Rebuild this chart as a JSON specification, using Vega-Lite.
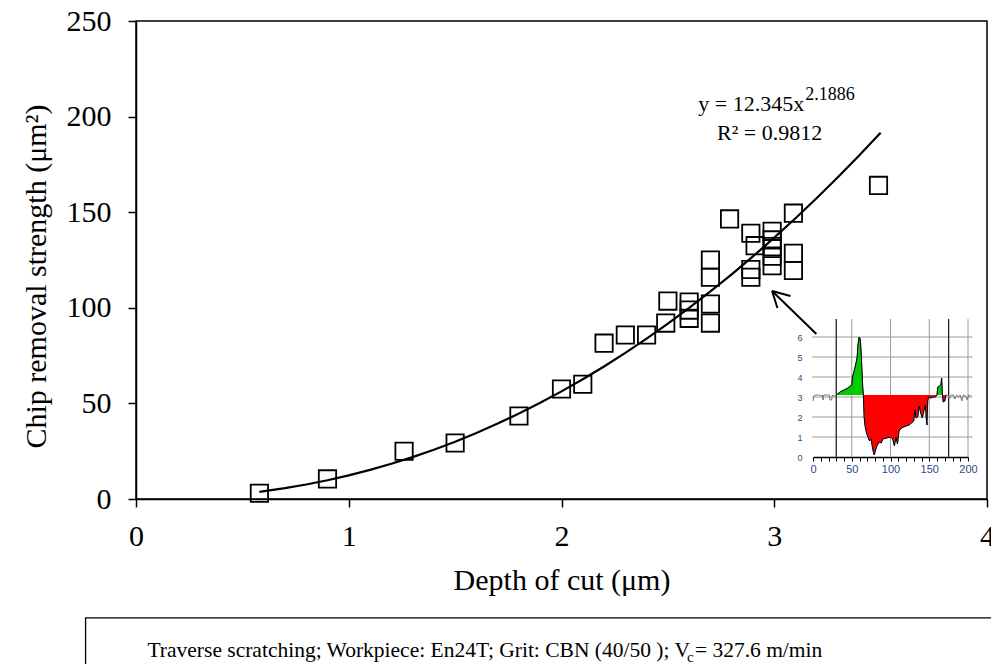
{
  "$schema": "https://vega.github.io/schema/vega-lite/v6.json",
  "width": 851,
  "height": 478,
  "autosize": {"type": "none"},
  "padding": {"left": 136, "top": 21, "right": 4, "bottom": 165},
  "background": "white",
  "config": {
    "view": {"stroke": "black", "strokeWidth": 1.5},
    "font": "Liberation Serif"
  },
  "datasets": {
    "pts": [
      {"x": 0.58, "y": 3}, {"x": 0.9, "y": 10.5}, {"x": 1.26, "y": 25}, {"x": 1.5, "y": 29.3},
      {"x": 1.8, "y": 43.4}, {"x": 2.0, "y": 57.5}, {"x": 2.1, "y": 60}, {"x": 2.2, "y": 81.5},
      {"x": 2.3, "y": 85.8}, {"x": 2.4, "y": 85.8}, {"x": 2.49, "y": 92}, {"x": 2.5, "y": 103.5},
      {"x": 2.6, "y": 94.5}, {"x": 2.6, "y": 98.8}, {"x": 2.6, "y": 103}, {"x": 2.7, "y": 92},
      {"x": 2.7, "y": 102}, {"x": 2.7, "y": 116}, {"x": 2.7, "y": 125}, {"x": 2.79, "y": 146.5},
      {"x": 2.89, "y": 116}, {"x": 2.89, "y": 120}, {"x": 2.89, "y": 139}, {"x": 2.91, "y": 132.5},
      {"x": 2.99, "y": 122}, {"x": 2.99, "y": 127}, {"x": 2.99, "y": 132}, {"x": 2.99, "y": 135.5},
      {"x": 2.99, "y": 140}, {"x": 3.09, "y": 119.5}, {"x": 3.09, "y": 128.5}, {"x": 3.09, "y": 149.5},
      {"x": 3.49, "y": 164}
    ],
    "fit": [
      {"x": 0.58, "y": 3.75}, {"x": 0.7, "y": 5.66}, {"x": 0.8, "y": 7.58}, {"x": 0.9, "y": 9.8},
      {"x": 1.0, "y": 12.35}, {"x": 1.1, "y": 15.21}, {"x": 1.2, "y": 18.4}, {"x": 1.3, "y": 21.92},
      {"x": 1.4, "y": 25.78}, {"x": 1.5, "y": 29.98}, {"x": 1.6, "y": 34.53}, {"x": 1.7, "y": 39.43},
      {"x": 1.8, "y": 44.69}, {"x": 1.9, "y": 50.3}, {"x": 2.0, "y": 56.28}, {"x": 2.1, "y": 62.62},
      {"x": 2.2, "y": 69.33}, {"x": 2.3, "y": 76.42}, {"x": 2.4, "y": 83.88}, {"x": 2.5, "y": 91.71},
      {"x": 2.6, "y": 99.93}, {"x": 2.7, "y": 108.54}, {"x": 2.8, "y": 117.53}, {"x": 2.9, "y": 126.91},
      {"x": 3.0, "y": 136.68}, {"x": 3.1, "y": 146.85}, {"x": 3.2, "y": 157.42}, {"x": 3.3, "y": 168.38},
      {"x": 3.4, "y": 179.75}, {"x": 3.5, "y": 191.6}
    ],
    "profile": [
      {"d": 0, "h": 2.8, "p": "o"}, {"d": 1, "h": 3.05, "p": "o"}, {"d": 4, "h": 3.1, "p": "o"},
      {"d": 8, "h": 3.1, "p": "o"}, {"d": 10, "h": 3.05, "p": "o"}, {"d": 12, "h": 3.1, "p": "o"},
      {"d": 13, "h": 2.85, "p": "o"}, {"d": 14, "h": 3.1, "p": "o"}, {"d": 18, "h": 3.1, "p": "o"},
      {"d": 21, "h": 3.1, "p": "o"}, {"d": 22, "h": 2.85, "p": "o"}, {"d": 24, "h": 2.85, "p": "o"},
      {"d": 25, "h": 3.1, "p": "o"}, {"d": 28, "h": 3.05, "p": "o"}, {"d": 30, "h": 3.1, "p": "o"},
      {"d": 30, "h": 3.1, "p": "g1"}, {"d": 35, "h": 3.25, "p": "g1"}, {"d": 40, "h": 3.35, "p": "g1"},
      {"d": 45, "h": 3.45, "p": "g1"}, {"d": 48, "h": 3.55, "p": "g1"}, {"d": 50, "h": 3.6, "p": "g1"},
      {"d": 51, "h": 4.0, "p": "g1"}, {"d": 53, "h": 4.3, "p": "g1"}, {"d": 55, "h": 4.6, "p": "g1"},
      {"d": 57, "h": 5.0, "p": "g1"}, {"d": 58, "h": 5.6, "p": "g1"}, {"d": 59.5, "h": 6.0, "p": "g1"},
      {"d": 61, "h": 5.9, "p": "g1"}, {"d": 62, "h": 5.3, "p": "g1"}, {"d": 63, "h": 4.5, "p": "g1"},
      {"d": 64, "h": 3.6, "p": "g1"}, {"d": 65, "h": 3.1, "p": "g1"},
      {"d": 65, "h": 3.1, "p": "r1"}, {"d": 66, "h": 2.0, "p": "r1"}, {"d": 67, "h": 1.6, "p": "r1"},
      {"d": 69, "h": 1.2, "p": "r1"}, {"d": 71, "h": 1.0, "p": "r1"}, {"d": 73, "h": 0.8, "p": "r1"},
      {"d": 75, "h": 0.9, "p": "r1"}, {"d": 77, "h": 0.4, "p": "r1"}, {"d": 79, "h": 0.1, "p": "r1"},
      {"d": 81, "h": 0.4, "p": "r1"}, {"d": 83, "h": 0.6, "p": "r1"}, {"d": 86, "h": 0.75, "p": "r1"},
      {"d": 88, "h": 0.7, "p": "r1"}, {"d": 90, "h": 0.9, "p": "r1"}, {"d": 95, "h": 0.95, "p": "r1"},
      {"d": 100, "h": 1.0, "p": "r1"}, {"d": 103, "h": 0.9, "p": "r1"}, {"d": 105, "h": 0.55, "p": "r1"},
      {"d": 107, "h": 1.0, "p": "r1"}, {"d": 109, "h": 0.65, "p": "r1"}, {"d": 111, "h": 1.3, "p": "r1"},
      {"d": 114, "h": 1.45, "p": "r1"}, {"d": 117, "h": 1.5, "p": "r1"}, {"d": 120, "h": 1.55, "p": "r1"},
      {"d": 124, "h": 1.6, "p": "r1"}, {"d": 127, "h": 1.7, "p": "r1"}, {"d": 130, "h": 1.8, "p": "r1"},
      {"d": 131.5, "h": 2.35, "p": "r1"}, {"d": 133, "h": 1.95, "p": "r1"}, {"d": 135, "h": 2.0, "p": "r1"},
      {"d": 137, "h": 2.55, "p": "r1"}, {"d": 139, "h": 2.2, "p": "r1"}, {"d": 141, "h": 1.95, "p": "r1"},
      {"d": 143, "h": 2.3, "p": "r1"}, {"d": 145, "h": 2.6, "p": "r1"}, {"d": 146, "h": 2.0, "p": "r1"},
      {"d": 147, "h": 1.6, "p": "r1"}, {"d": 148, "h": 2.8, "p": "r1"}, {"d": 149, "h": 3.0, "p": "r1"},
      {"d": 152, "h": 2.95, "p": "r1"}, {"d": 155, "h": 3.0, "p": "r1"}, {"d": 158, "h": 3.0, "p": "r1"},
      {"d": 160, "h": 3.1, "p": "r1"},
      {"d": 160, "h": 3.1, "p": "g2"}, {"d": 161, "h": 3.5, "p": "g2"}, {"d": 163, "h": 3.55, "p": "g2"},
      {"d": 165, "h": 3.6, "p": "g2"}, {"d": 166, "h": 3.95, "p": "g2"}, {"d": 167, "h": 3.1, "p": "g2"},
      {"d": 167, "h": 3.1, "p": "r2"}, {"d": 168, "h": 2.75, "p": "r2"}, {"d": 170, "h": 2.8, "p": "r2"},
      {"d": 171.5, "h": 3.1, "p": "r2"},
      {"d": 171.5, "h": 3.1, "p": "o"}, {"d": 174, "h": 3.1, "p": "o"}, {"d": 176, "h": 2.9, "p": "o"},
      {"d": 178, "h": 3.1, "p": "o"}, {"d": 181, "h": 3.1, "p": "o"}, {"d": 183, "h": 2.9, "p": "o"},
      {"d": 185, "h": 3.1, "p": "o"}, {"d": 188, "h": 3.0, "p": "o"}, {"d": 190, "h": 3.1, "p": "o"},
      {"d": 192, "h": 2.8, "p": "o"}, {"d": 194, "h": 3.1, "p": "o"}, {"d": 197, "h": 3.05, "p": "o"},
      {"d": 199, "h": 2.85, "p": "o"}, {"d": 201, "h": 3.1, "p": "o"}, {"d": 204, "h": 3.05, "p": "o"}
    ],
    "vgray": [{"d": 50}, {"d": 100}, {"d": 150}, {"d": 200}],
    "vblack": [{"d": 30}, {"d": 175}],
    "hgrid": [{"h": 1}, {"h": 2}, {"h": 3}, {"h": 4}, {"h": 5}, {"h": 6}]
  },
  "layer": [
    {
      "layer": [
        {
          "data": {"name": "fit"},
          "mark": {"type": "line", "color": "black", "strokeWidth": 2.2},
          "encoding": {
            "x": {
              "field": "x", "type": "quantitative",
              "scale": {"domain": [0, 4], "nice": false, "zero": false},
              "title": "Depth of cut (μm)",
              "axis": {
                "orient": "bottom", "values": [0, 1, 2, 3, 4], "format": "d", "grid": false,
                "labelFont": "Liberation Serif", "labelFontSize": 30, "labelColor": "black",
                "labelFlush": false, "labelOverlap": false, "labelBound": false,
                "tickColor": "black", "tickSize": 8, "tickWidth": 1.5,
                "domainColor": "black", "domainWidth": 1.5, "labelPadding": 14,
                "titleFont": "Liberation Serif", "titleFontSize": 30, "titleFontWeight": "normal",
                "titleColor": "black", "titlePadding": 14
              }
            },
            "y": {
              "field": "y", "type": "quantitative",
              "scale": {"domain": [0, 250], "nice": false, "zero": false},
              "title": "Chip removal strength (μm²)",
              "axis": {
                "orient": "left", "values": [0, 50, 100, 150, 200, 250], "grid": false,
                "labelFont": "Liberation Serif", "labelFontSize": 30, "labelColor": "black",
                "labelFlush": false, "labelOverlap": false,
                "tickColor": "black", "tickSize": 8, "tickWidth": 1.5,
                "domainColor": "black", "domainWidth": 1.5, "labelPadding": 17,
                "titleFont": "Liberation Serif", "titleFontSize": 30, "titleFontWeight": "normal",
                "titleColor": "black", "titlePadding": 15, "titleY": 255
              }
            }
          }
        },
        {
          "data": {"name": "pts"},
          "mark": {"type": "point", "shape": "square", "size": 300, "filled": false, "stroke": "black", "strokeWidth": 1.8, "opacity": 1},
          "encoding": {
            "x": {"field": "x", "type": "quantitative"},
            "y": {"field": "y", "type": "quantitative"}
          }
        },
        {
          "data": {"values": [{}]},
          "mark": {"type": "text", "text": "y = 12.345x", "align": "right", "baseline": "alphabetic", "font": "Liberation Serif", "fontSize": 22, "color": "black"},
          "encoding": {"x": {"datum": 3.141}, "y": {"datum": 203}}
        },
        {
          "data": {"values": [{}]},
          "mark": {"type": "text", "text": "2.1886", "align": "left", "baseline": "alphabetic", "font": "Liberation Serif", "fontSize": 18, "color": "black"},
          "encoding": {"x": {"datum": 3.146}, "y": {"datum": 208.5}}
        },
        {
          "data": {"values": [{}]},
          "mark": {"type": "text", "text": "R² = 0.9812", "align": "center", "baseline": "alphabetic", "font": "Liberation Serif", "fontSize": 22, "color": "black"},
          "encoding": {"x": {"datum": 2.978}, "y": {"datum": 188}}
        },
        {
          "data": {"values": [{}]},
          "mark": {"type": "rule", "color": "black", "strokeWidth": 2},
          "encoding": {"x": {"datum": 2.99}, "y": {"datum": 108.8}, "x2": {"datum": 3.198}, "y2": {"datum": 86.3}}
        },
        {
          "data": {"values": [{}]},
          "mark": {"type": "rule", "color": "black", "strokeWidth": 2},
          "encoding": {"x": {"datum": 2.99}, "y": {"datum": 108.8}, "x2": {"datum": 3.076}, "y2": {"datum": 106.2}}
        },
        {
          "data": {"values": [{}]},
          "mark": {"type": "rule", "color": "black", "strokeWidth": 2},
          "encoding": {"x": {"datum": 2.99}, "y": {"datum": 108.8}, "x2": {"datum": 3.015}, "y2": {"datum": 99.9}}
        },
        {
          "data": {"values": [{}]},
          "mark": {"type": "rect", "fill": "transparent", "stroke": "black", "strokeWidth": 1.3},
          "encoding": {"x": {"datum": -0.237}, "x2": {"datum": 4.4}, "y": {"datum": -62.2}, "y2": {"datum": -110}}
        },
        {
          "data": {"values": [{}]},
          "mark": {"type": "text", "text": "Traverse scratching; Workpiece: En24T; Grit: CBN (40/50 ); V", "align": "left", "baseline": "alphabetic", "font": "Liberation Serif", "fontSize": 21.5, "color": "black"},
          "encoding": {"x": {"datum": 0.054}, "y": {"datum": -82.5}}
        },
        {
          "data": {"values": [{}]},
          "mark": {"type": "text", "text": "c", "align": "left", "baseline": "alphabetic", "font": "Liberation Serif", "fontSize": 15, "color": "black"},
          "encoding": {"x": {"datum": 2.59}, "y": {"datum": -85.5}}
        },
        {
          "data": {"values": [{}]},
          "mark": {"type": "text", "text": "= 327.6 m/min", "align": "left", "baseline": "alphabetic", "font": "Liberation Serif", "fontSize": 21.5, "color": "black"},
          "encoding": {"x": {"datum": 2.627}, "y": {"datum": -82.5}}
        }
      ]
    },
    {
      "layer": [
        {
          "data": {"name": "hgrid"},
          "mark": {"type": "rule", "color": "#9a9a9a", "strokeWidth": 1},
          "encoding": {
            "y": {
              "field": "h", "type": "quantitative",
              "scale": {"domain": [0, 6], "range": [436, 316], "nice": false, "zero": false},
              "title": null,
              "axis": {
                "orient": "left", "offset": -677, "values": [0, 1, 2, 3, 4, 5, 6], "format": "d", "grid": false,
                "ticks": false, "domain": false, "labelFont": "Liberation Sans", "labelFontSize": 9,
                "labelColor": "#2b4a8c", "labelPadding": 11, "labelFlush": false, "labelOverlap": false
              }
            },
            "x": {"datum": -1},
            "x2": {"datum": 206}
          }
        },
        {
          "data": {"name": "vgray"},
          "mark": {"type": "rule", "color": "#9a9a9a", "strokeWidth": 1},
          "encoding": {
            "x": {
              "field": "d", "type": "quantitative",
              "scale": {"domain": [0, 200], "range": [677, 832], "nice": false, "zero": false},
              "title": null,
              "axis": {
                "orient": "bottom", "offset": -42,
                "values": [0, 10, 20, 30, 40, 50, 60, 70, 80, 90, 100, 110, 120, 130, 140, 150, 160, 170, 180, 190, 200],
                "labelExpr": "datum.value % 50 == 0 ? datum.label : ''",
                "grid": false, "tickColor": "black", "tickSize": 4, "tickWidth": 1,
                "domainColor": "black", "domainWidth": 1.5,
                "labelFont": "Liberation Sans", "labelFontSize": 11, "labelColor": "#2b4a8c",
                "labelPadding": 2, "labelFlush": false, "labelOverlap": false, "labelBound": false
              }
            },
            "y": {"datum": 0},
            "y2": {"datum": 6.9}
          }
        },
        {
          "data": {"name": "profile"},
          "transform": [{"filter": "datum.p != 'o'"}],
          "mark": {"type": "area", "opacity": 1},
          "encoding": {
            "x": {"field": "d", "type": "quantitative", "title": null},
            "y": {"field": "h", "type": "quantitative", "title": null},
            "y2": {"datum": 3.1},
            "detail": {"field": "p"},
            "color": {
              "field": "p", "type": "nominal", "legend": null,
              "scale": {"domain": ["g1", "g2", "r1", "r2"], "range": ["#00cc00", "#00cc00", "#ff0000", "#ff0000"]}
            }
          }
        },
        {
          "data": {"name": "vblack"},
          "mark": {"type": "rule", "color": "#222222", "strokeWidth": 1.3},
          "encoding": {
            "x": {"field": "d", "type": "quantitative", "title": null},
            "y": {"datum": 0},
            "y2": {"datum": 6.9}
          }
        },
        {
          "data": {"name": "profile"},
          "mark": {"type": "line", "color": "#777777", "strokeWidth": 1},
          "encoding": {
            "x": {"field": "d", "type": "quantitative", "title": null},
            "y": {"field": "h", "type": "quantitative", "title": null}
          }
        },
        {
          "data": {"name": "profile"},
          "transform": [{"filter": "datum.p != 'o'"}],
          "mark": {"type": "line", "color": "black", "strokeWidth": 1},
          "encoding": {
            "x": {"field": "d", "type": "quantitative", "title": null},
            "y": {"field": "h", "type": "quantitative", "title": null}
          }
        }
      ]
    }
  ],
  "resolve": {
    "scale": {"x": "independent", "y": "independent", "color": "independent"},
    "axis": {"x": "independent", "y": "independent"}
  }
}
